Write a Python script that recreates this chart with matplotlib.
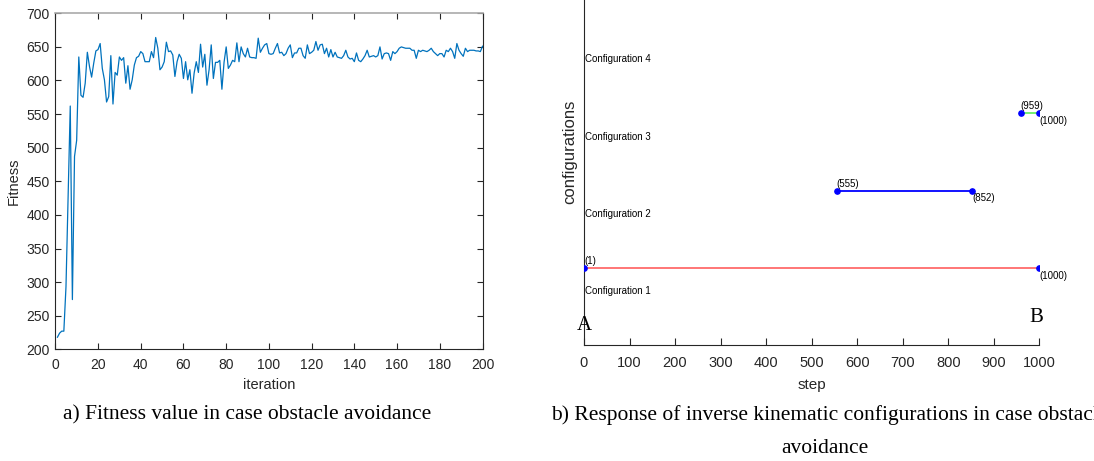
import matplotlib
matplotlib.use("Agg")
import matplotlib.pyplot as plt
import numpy as np

# ---------------- data ----------------
iterations = list(range(1, 201))
fitness = [
    218, 224, 227, 227, 293, 430, 562, 274, 487, 511,
    635, 578, 575, 596, 642, 621, 605, 626, 644, 646,
    655, 618, 601, 568, 576, 637, 565, 612, 608, 635,
    630, 634, 596, 622, 587, 601, 623, 634, 636, 643,
    640, 628, 628, 628, 643, 634, 664, 648, 616, 620,
    628, 657, 643, 644, 638, 606, 628, 639, 633, 603,
    628, 601, 616, 581, 611, 628, 612, 654, 620, 639,
    593, 616, 653, 603, 627, 627, 630, 587, 627, 650,
    618, 623, 630, 628, 656, 628, 650, 640, 635, 648,
    635, 634, 634, 633, 663, 642, 648, 653, 655, 640,
    639, 640, 648, 655, 641, 642, 637, 640, 648, 653,
    634, 641, 641, 648, 648, 637, 633, 653, 640, 642,
    645, 658, 645, 653, 654, 640, 648, 635, 646, 635,
    642, 635, 634, 633, 637, 645, 635, 632, 633, 628,
    641, 630, 628, 632, 637, 645, 635, 636, 637, 635,
    637, 650, 632, 640, 641, 640, 630, 643, 640, 643,
    648, 650, 649, 648, 648, 648, 645, 645, 633, 645,
    643, 645, 644, 643, 645, 648, 643, 640, 637, 640,
    640, 635, 645, 643, 648, 643, 633, 655, 645, 640,
    636, 648, 643, 645, 645, 645, 644, 644, 643, 651,
]

config_names = ["Configuration 1", "Configuration 2", "Configuration 3", "Configuration 4"]
seg_config = [1, 2, 3]
seg_start = [1, 555, 959]
seg_end = [1000, 852, 1000]
seg_colors = ["#ff6b6b", "#0000ff", "#66ee66"]

x_ticks_left = list(range(0, 201, 20))
y_ticks_left = list(range(200, 701, 50))
x_ticks_right = list(range(0, 1001, 100))

# ---------------- figure ----------------
W, H = 1094, 461
fig = plt.figure(figsize=(W / 100, H / 100), dpi=100)
fig.patch.set_facecolor("white")

sans = ["Liberation Sans", "DejaVu Sans"]
serif = ["Liberation Serif", "DejaVu Serif"]
dark = "#262626"

def px_axes(l, r, t, b):
    return [l / W, 1 - b / H, (r - l) / W, (b - t) / H]

# ---- left plot ----
ax1 = fig.add_axes(px_axes(55.3, 482.5, 13.3, 349.3))
ax1.plot(iterations, fitness, color="#0072BD", lw=0.9)
ax1.set_xlim(0, 200)
ax1.set_ylim(200, 700)
ax1.set_xticks(x_ticks_left)
ax1.set_yticks(y_ticks_left)
ax1.tick_params(direction="in", length=4, width=0.8, colors=dark,
                labelsize=10, top=True, right=True)
ax1.tick_params(axis="x", pad=6)
ax1.tick_params(axis="y", pad=4)
for lab in ax1.get_xticklabels() + ax1.get_yticklabels():
    lab.set_family(sans)
for s in ["left", "bottom", "right"]:
    ax1.spines[s].set_color(dark)
    ax1.spines[s].set_linewidth(0.8)
ax1.spines["top"].set_color("#aaaaaa")
ax1.spines["top"].set_linewidth(1.2)
ax1.set_xlabel("iteration", fontsize=10.5, family=sans, color=dark)
ax1.set_ylabel("Fitness", fontsize=10.5, family=sans, color=dark)
ax1.xaxis.set_label_coords(0.5, -0.084)
ax1.yaxis.set_label_coords(-0.080, 0.5)

# ---- right plot ----
ax2 = fig.add_axes(px_axes(584, 1039.3, 345 - 386, 345))
for c, s0, s1, col in zip(seg_config, seg_start, seg_end, seg_colors):
    ax2.plot([s0, s1], [c, c], color=col, lw=1.3, zorder=2)
    ax2.plot([s0, s1], [c, c], ls="none", marker="o", ms=3.8,
             color="#0000ff", zorder=3)
    ax2.annotate(f"({s0})", (s0, c), xytext=(0, 1.5), textcoords="offset points",
                 ha="left", va="bottom", fontsize=7, family=sans, color="black")
    ax2.annotate(f"({s1})", (s1, c), xytext=(0, -2), textcoords="offset points",
                 ha="left", va="top", fontsize=7, family=sans, color="black")
for k, name in enumerate(config_names):
    ax2.text(3, k + 0.7, name, fontsize=7, family=sans, ha="left", va="center",
             color="black")
ax2.text(0, 0.25, "A", fontsize=15, family=serif, ha="center", va="center")
ax2.text(994, 0.35, "B", fontsize=15, family=serif, ha="center", va="center")
ax2.set_xlim(0, 1000)
ax2.set_ylim(0, 5)
ax2.set_xticks(x_ticks_right)
ax2.set_yticks([])
ax2.tick_params(axis="x", direction="in", length=5, width=0.8, colors=dark,
                labelsize=10.5, pad=8)
for lab in ax2.get_xticklabels():
    lab.set_family(sans)
ax2.spines["top"].set_visible(False)
ax2.spines["right"].set_visible(False)
ax2.spines["left"].set_color(dark)
ax2.spines["bottom"].set_color(dark)
ax2.spines["left"].set_linewidth(0.8)
ax2.spines["bottom"].set_linewidth(0.8)
ax2.set_xlabel("step", fontsize=11, family=sans, color=dark)
ax2.set_ylabel("configurations", fontsize=12, family=sans, color=dark)
ax2.xaxis.set_label_coords(0.5, -0.086)
ax2.yaxis.set_label_coords(-0.015, 0.5)

# ---- captions ----
fig.text(247 / W, 1 - 415 / H, "a) Fitness value in case obstacle avoidance",
         fontsize=15.5, family=serif, ha="center", va="center")
fig.text(551 / W, 1 - 415 / H,
         "b) Response of inverse kinematic configurations in case obstacle",
         fontsize=15.5, family=serif, ha="left", va="center")
fig.text(825 / W, 1 - 448 / H, "avoidance",
         fontsize=15.5, family=serif, ha="center", va="center")

fig.savefig("out.png", dpi=100)
